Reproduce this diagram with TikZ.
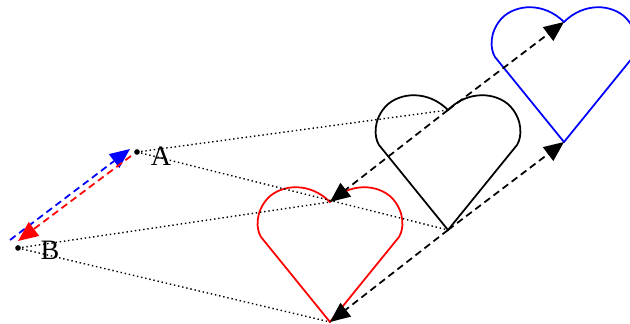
\documentclass[tikz,border=0pt]{standalone}
\usepackage{fontspec}
\setmainfont{Liberation Serif}
\usetikzlibrary{calc,arrows.meta}

\tikzset{
  heart/.pic={
    \draw (0,0) -- (-69,-85)
      .. controls (-74,-93) and (-75,-110) .. (-62,-124)
      .. controls (-48,-138) and (-20,-140) .. (0,-120)
      .. controls (20,-140) and (48,-138) .. (62,-124)
      .. controls (75,-110) and (74,-93) .. (69,-85) -- cycle;
  },
  move/.style={dash pattern=on 4pt off 2.5pt,
    -{Triangle[length=0.4cm,width=0.34cm]}},
  ray/.style={dash pattern=on 0.8pt off 1.6pt, line width=0.8pt},
  ptname/.style={font=\fontsize{16}{18}\selectfont, inner sep=0pt}
}

\begin{document}
\begin{tikzpicture}[x=0.02cm, y=-0.02cm, line width=1pt]
\useasboundingbox (0,0) rectangle (630,324);
% the two points
\coordinate (A) at (137,152);
\coordinate (B) at (18,248);
\fill (A) circle (1.6pt);
\fill (B) circle (1.6pt);
\node[ptname] (labA) at (161,156) {A};
\node[ptname] (labB) at (50,250) {B};
% tips and dips of the three hearts
\coordinate (rtip) at (330,322);  \coordinate (rdip) at (330,202);
\coordinate (ktip) at (448,230);  \coordinate (kdip) at (448,110);
\coordinate (btip) at (564,142);  \coordinate (bdip) at (564,22);
\pic[red]   at (rtip) {heart};
\pic        at (ktip) {heart};
\pic[blue]  at (btip) {heart};
% rays from the points
\draw[ray] (A) -- (kdip);
\draw[ray] (A) -- (ktip);
\draw[ray] (B) -- (rdip);
\draw[ray] (B) -- (rtip);
% translations
\draw[move] (kdip) -- (rdip);
\draw[move] (kdip) -- (bdip);
\draw[move] (ktip) -- (rtip);
\draw[move] (ktip) -- (btip);
\draw[move, blue] ($(B)+(-8,-8)$) -- ($(A)+(-7,-3)$);
\draw[move, red]  ($(A)+(-6,4)$) -- ($(B)+(0,-7)$);
\end{tikzpicture}
\end{document}
